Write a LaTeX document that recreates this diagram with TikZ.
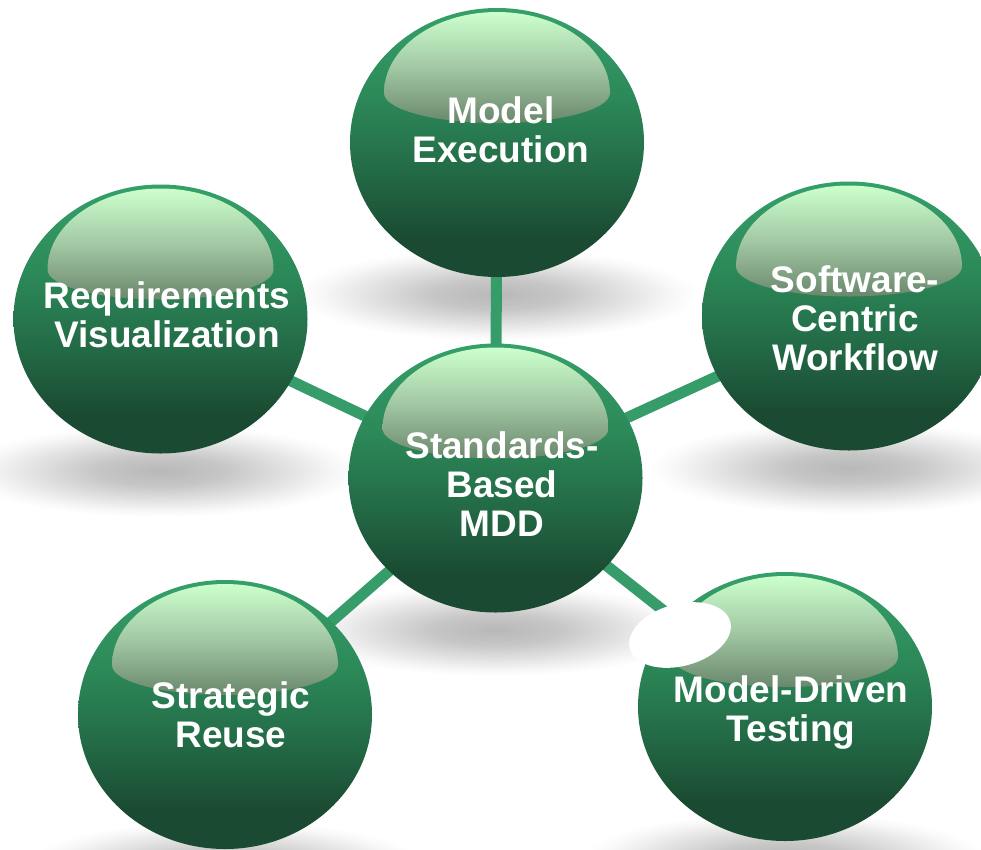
\documentclass[tikz,border=0pt]{standalone}
\usepackage{fontspec}
\setmainfont{Liberation Sans}
\usetikzlibrary{fadings}

% palette
\definecolor{bubT}{HTML}{35A06A}
\definecolor{bubM}{HTML}{2C8858}
\definecolor{bubL}{HTML}{236B47}
\definecolor{bubD}{HTML}{1A4A31}
\definecolor{glT}{HTML}{CCFFCC}
\definecolor{glM}{HTML}{A2C8A4}
\definecolor{glB}{HTML}{6A876C}
\definecolor{linkgreen}{HTML}{369C6A}

% body of a sphere: light green at the top, dark green at the bottom
\pgfdeclareverticalshading{bubbleshade}{100bp}{%
  color(0bp)=(bubD); color(25bp)=(bubD); color(32bp)=(bubD);
  color(45bp)=(bubL); color(58bp)=(bubM); color(75bp)=(bubT); color(100bp)=(bubT)}

% glossy cap
\pgfdeclareverticalshading{glossshade}{100bp}{%
  color(0bp)=(glB); color(25bp)=(glB); color(50bp)=(glM);
  color(75bp)=(glT); color(100bp)=(glT)}

% soft mask for the cast shadows
\pgfdeclareradialshading{shadowmask}{\pgfpointorigin}{%
  color(0bp)=(white); color(8bp)=(white!80!black); color(16bp)=(white!40!black);
  color(22bp)=(white!10!black); color(25bp)=(black); color(50bp)=(black)}
\pgfdeclarefading{softshadow}{\pgfuseshading{shadowmask}}

\tikzset{
  link/.style={draw=linkgreen, line width=11pt},
  castshadow/.style={fill=black, opacity=.28, path fading=softshadow},
  sphere/.style={shading=bubbleshade},
  gloss/.style={shading=glossshade},
  lbl/.style={text=white, font=\fontsize{37}{39}\selectfont\bfseries,
              align=center, inner sep=0pt}
}

\begin{document}
\begin{tikzpicture}[x=1pt, y=-1pt]
  \useasboundingbox (0,0) rectangle (981,849);
  \clip (0,0) rectangle (981,849);
  \fill[white] (0,0) rectangle (981,849);

  % sphere centres
  \coordinate (ME) at (497,142.5);
  \coordinate (C)  at (495.5,478);
  \coordinate (RV) at (160.5,319);
  \coordinate (SC) at (849,316);
  \coordinate (MT) at (785,706.5);
  \coordinate (SR) at (225,714.5);

  % shadows on the ground
  \foreach \x/\y in {497/142.5, 495.5/478, 160.5/319, 849/316, 785/706.5, 225/714.5}
    \path[castshadow] (\x,\y+152) ellipse [x radius=200, y radius=46];

  % spokes
  \draw[link] (C) -- (ME);
  \draw[link] (C) -- (RV);
  \draw[link] (C) -- (SC);
  \draw[link] (C) -- (MT);
  \draw[link] (C) -- (SR);

  % spheres with their glossy caps
  \foreach \x/\y in {497/142.5, 495.5/478, 160.5/319, 849/316, 785/706.5, 225/714.5}{
    \path[sphere] (\x,\y) ellipse [x radius=147, y radius=134.5];
    \path[gloss] (\x-113,\y-49.5)
      arc[start angle=180, end angle=360, x radius=113, y radius=81]
      arc[start angle=0, end angle=180, x radius=113, y radius=30] -- cycle;
  }

  % white patch over the lower right spoke
  \fill[white, rotate around={15:(680,635)}] (680,635) ellipse [x radius=52, y radius=31];

  % labels
  \node[lbl] (tME) at (501,134.7) {\strut Model\\\strut Execution};
  \node[lbl] (tC)  at (502,489.2) {\strut Standards-\\\strut Based\\\strut MDD};
  \node[lbl] (tRV) at (167,319.7) {\strut Requirements\\\strut Visualization};
  \node[lbl] (tSC) at (855,323.2) {\strut Software-\\\strut Centric\\\strut Workflow};
  \node[lbl] (tMT) at (791,713.7) {\strut Model-Driven\\\strut Testing};
  \node[lbl] (tSR) at (231,719.7) {\strut Strategic\\\strut Reuse};
\end{tikzpicture}
\end{document}
